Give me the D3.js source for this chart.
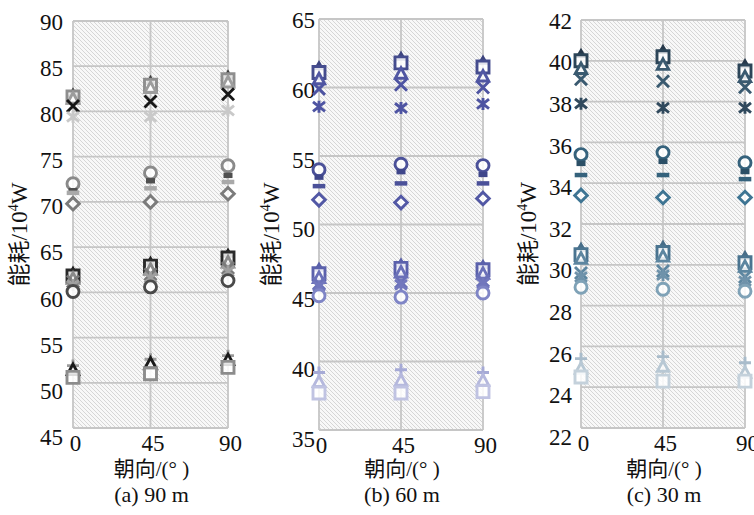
<!DOCTYPE html>
<html>
<head>
<meta charset="utf-8">
<script src="https://cdn.jsdelivr.net/npm/d3@7"></script>
<style>
  html, body { margin: 0; padding: 0; background: #ffffff; }
  svg text { font-family: "Liberation Serif", "Noto Sans CJK SC", serif; fill: #111; }
</style>
</head>
<body>
<svg id="chart" width="754" height="515"></svg>
<script>
// Orientation categories on the x axis
const orientations = [0, 45, 90];

// Marker used by each series (same order in every panel)
const markerTypes = [
  "cap", "square", "triangle", "times", "asterisk",
  "circle", "block", "dash", "diamond",
  "cap", "square", "triangle", "times", "asterisk", "circle",
  "plus", "triangle", "square"
];

// Energy consumption (10^4 W) at orientation 0, 45, 90 — building height 90 m
const energy90m = [
  [81.9, 83.3, 83.9], [81.6, 82.9, 83.5], [81.4, 82.6, 83.2], [80.6, 81.1, 81.9], [79.4, 79.4, 80.1],
  [72.0, 73.2, 74.0], [71.3, 72.4, 73.0], [71.0, 71.5, 72.2], [69.8, 70.0, 70.9],
  [62.2, 63.3, 64.2], [61.8, 62.9, 63.8], [61.5, 62.5, 63.3], [61.2, 62.0, 62.7], [60.8, 61.6, 62.3], [60.1, 60.6, 61.3],
  [51.9, 52.6, 53.0], [51.4, 52.1, 52.5], [50.6, 51.0, 51.7]
];
// height 60 m
const energy60m = [
  [61.5, 62.2, 61.9], [61.1, 61.8, 61.5], [60.6, 61.0, 60.8], [59.9, 60.2, 60.0], [58.6, 58.5, 58.8],
  [54.0, 54.4, 54.3], [53.5, 53.9, 53.7], [52.8, 53.0, 53.0], [51.8, 51.6, 51.9],
  [46.8, 47.1, 47.0], [46.4, 46.8, 46.7], [46.1, 46.5, 46.4], [45.7, 45.8, 45.9], [45.5, 45.6, 45.7], [44.8, 44.7, 45.0],
  [39.2, 39.4, 39.2], [38.5, 38.6, 38.6], [37.7, 37.7, 37.8]
];
// height 30 m
const energy30m = [
  [40.3, 40.5, 39.8], [40.0, 40.2, 39.5], [39.6, 39.8, 39.2], [39.1, 39.0, 38.7], [37.9, 37.7, 37.7],
  [35.4, 35.5, 35.0], [35.0, 35.1, 34.6], [34.4, 34.4, 34.2], [33.4, 33.3, 33.3],
  [30.8, 30.9, 30.4], [30.5, 30.6, 30.1], [30.3, 30.4, 29.9], [29.6, 29.7, 29.4], [29.4, 29.5, 29.2], [28.9, 28.8, 28.7],
  [25.4, 25.5, 25.2], [24.9, 25.0, 24.7], [24.5, 24.3, 24.3]
];

// Y tick labels per panel
const ticks90m = [45, 50, 55, 60, 65, 70, 75, 80, 85, 90];
const ticks60m = [35, 40, 45, 50, 55, 60, 65];
const ticks30m = [22, 24, 26, 28, 30, 32, 34, 36, 38, 40, 42];

// Panel captions and axis titles
const captions = ["(a) 90 m", "(b) 60 m", "(c) 30 m"];
const xTitle = "朝向/(°  )";

// Series colours per panel
const colors90m = [
  "#3a3a3a", "#8e8e8e", "#9c9c9c", "#161616", "#c9c9c9",
  "#8a8a8a", "#4f4f4f", "#a9a9a9", "#7b7b7b",
  "#1e1e1e", "#2a2a2a", "#8a8a8a", "#7a7a7a", "#a0a0a0", "#4a4a4a",
  "#9a9a9a", "#1a1a1a", "#8c8c8c"
];
const colors60m = [
  "#3d447f", "#454c8e", "#5157a3", "#4e54a2", "#4e54a2",
  "#4b5199", "#3f468a", "#4b5199", "#5258a5",
  "#5a60aa", "#5b61ac", "#6a70b8", "#6a70b8", "#7277bd", "#7f85c6",
  "#a6aad6", "#b5b8dd", "#c0c3e2"
];
const colors30m = [
  "#26384a", "#2c4558", "#3a5a70", "#3a5a70", "#30495d",
  "#35627c", "#2b4f66", "#35627c", "#3e7593",
  "#476d88", "#4a7490", "#5d86a0", "#5d86a0", "#6f92aa", "#7fa2b7",
  "#a9bccb", "#b8c8d4", "#c4d1db"
];

// Panel frames (plot areas)
const frames = [
  { left: 73, right: 228, top: 21, bottom: 428, labelGap: 10, titleX: 27 },
  { left: 319, right: 483, top: 19, bottom: 430, labelGap: 4, titleX: 279 },
  { left: 581, right: 745, top: 20, bottom: 428, labelGap: 9, titleX: 536 }
];

const svg = d3.select("#chart");

// Diagonal hatch used as plot background
const defs = svg.append("defs");
const pat = defs.append("pattern")
  .attr("id", "hatch").attr("patternUnits", "userSpaceOnUse")
  .attr("width", 4).attr("height", 4);
pat.append("rect").attr("width", 4).attr("height", 4).attr("fill", "#f8f8f8");
pat.append("path").attr("d", "M-1,-1L5,5M-1,3L1,5M3,-1L5,1")
  .attr("stroke", "#cbcbcb").attr("stroke-width", 0.75);

// Marker path builders, centred at the origin
function markerPath(type, r) {
  switch (type) {
    case "square": return `M${-r},${-r}H${r}V${r}H${-r}Z`;
    case "triangle": return `M0,${-r}L${r * 0.95},${r * 0.75}L${-r * 0.95},${r * 0.75}Z`;
    case "cap": return `M0,${-r * 1.15}L${r},${r * 0.55}L${-r},${r * 0.55}Z`;
    case "times": return `M${-r},${-r}L${r},${r}M${r},${-r}L${-r},${r}`;
    case "asterisk": return `M${-r},${-r * 0.8}L${r},${r * 0.8}M${r},${-r * 0.8}L${-r},${r * 0.8}M0,${-r}V${r}`;
    case "circle": return d3.arc()({ innerRadius: 0, outerRadius: r, startAngle: 0, endAngle: 2 * Math.PI });
    case "block": return `M${-r * 0.75},${-r * 0.35}H${r * 0.75}V${r * 0.55}H${-r * 0.75}Z`;
    case "dash": return `M${-r * 1.05},0H${r * 1.05}`;
    case "diamond": return `M0,${-r * 1.05}L${r * 1.05},0L0,${r * 1.05}L${-r * 1.05},0Z`;
    case "plus": return `M${-r},0H${r}M0,${-r}V${r}`;
  }
  return "";
}
function markerFill(type, color) {
  if (type === "cap" || type === "block") return color;
  if (type === "square" || type === "circle" || type === "diamond" || type === "triangle") return "rgba(255,255,255,0.85)";
  return "none";
}

const panelData = [energy90m, energy60m, energy30m];
const panelTicks = [ticks90m, ticks60m, ticks30m];
const panelColors = [colors90m, colors60m, colors30m];

panelData.forEach((values, p) => {
  const f = frames[p];
  const tickVals = panelTicks[p];
  const colors = panelColors[p];
  const domain = d3.extent(tickVals);

  const x = d3.scalePoint().domain(orientations).range([f.left, f.right]).padding(0);
  const y = d3.scaleLinear().domain(domain).range([f.bottom, f.top]);
  // labels sit slightly spread relative to the grid
  const yLab = y.copy().range([f.bottom + 9, f.top + 1]);

  const g = svg.append("g");

  // hatched plot background
  g.append("rect")
    .attr("x", f.left).attr("y", f.top)
    .attr("width", f.right - f.left).attr("height", f.bottom - f.top)
    .attr("fill", "url(#hatch)");

  // horizontal grid lines
  g.append("g").selectAll("line").data(tickVals).join("line")
    .attr("x1", f.left).attr("x2", f.right)
    .attr("y1", d => y(d)).attr("y2", d => y(d))
    .attr("stroke", "#c6c6c6").attr("stroke-width", 1.8);
  // vertical grid lines
  g.append("g").selectAll("line").data(orientations).join("line")
    .attr("x1", d => x(d)).attr("x2", d => x(d))
    .attr("y1", f.top).attr("y2", f.bottom)
    .attr("stroke", "#c6c6c6").attr("stroke-width", 1.8);

  // y axis labels
  const yAxis = g.append("g")
    .attr("transform", `translate(${f.left - f.labelGap},0)`)
    .call(d3.axisLeft(yLab).tickValues(tickVals).tickSize(0).tickPadding(0).tickFormat(d3.format("d")));
  yAxis.select(".domain").remove();
  yAxis.selectAll("text").attr("font-size", 23).attr("font-family", "Liberation Serif").attr("fill", "#111");

  // x axis labels
  const xAxis = g.append("g")
    .attr("transform", `translate(0,${f.bottom + 7})`)
    .call(d3.axisBottom(x).tickSize(0).tickPadding(0));
  xAxis.select(".domain").remove();
  xAxis.selectAll("text").attr("font-size", 23).attr("font-family", "Liberation Serif").attr("fill", "#111")
    .attr("dx", 2);

  // y axis title
  const ty = g.append("text")
    .attr("transform", `translate(${f.titleX},${(f.top + f.bottom) / 2 + 10}) rotate(-90)`)
    .attr("text-anchor", "middle").attr("font-size", 23);
  ty.append("tspan").text("能耗/10");
  ty.append("tspan").attr("font-size", 14).attr("dy", -9).text("4");
  ty.append("tspan").attr("dy", 9).text("W");

  const cx = (f.left + f.right) / 2 + 1;
  g.append("text").attr("x", cx).attr("y", 476).attr("text-anchor", "middle")
    .attr("font-size", 21).text(xTitle);
  g.append("text").attr("x", cx).attr("y", 502).attr("text-anchor", "middle")
    .attr("font-size", 22).text(captions[p]);

  // markers, one group per series
  values.forEach((row, s) => {
    const type = markerTypes[s];
    const color = colors[s];
    g.append("g").selectAll("path").data(row).join("path")
      .attr("transform", (v, i) => `translate(${x(orientations[i])},${y(v)})`)
      .attr("d", markerPath(type, 6))
      .attr("fill", markerFill(type, color))
      .attr("stroke", type === "block" || type === "cap" ? "none" : color)
      .attr("stroke-width", type === "dash" ? 4.5 : 2.9)
      .attr("stroke-linecap", "butt");
  });
});
</script>
</body>
</html>
